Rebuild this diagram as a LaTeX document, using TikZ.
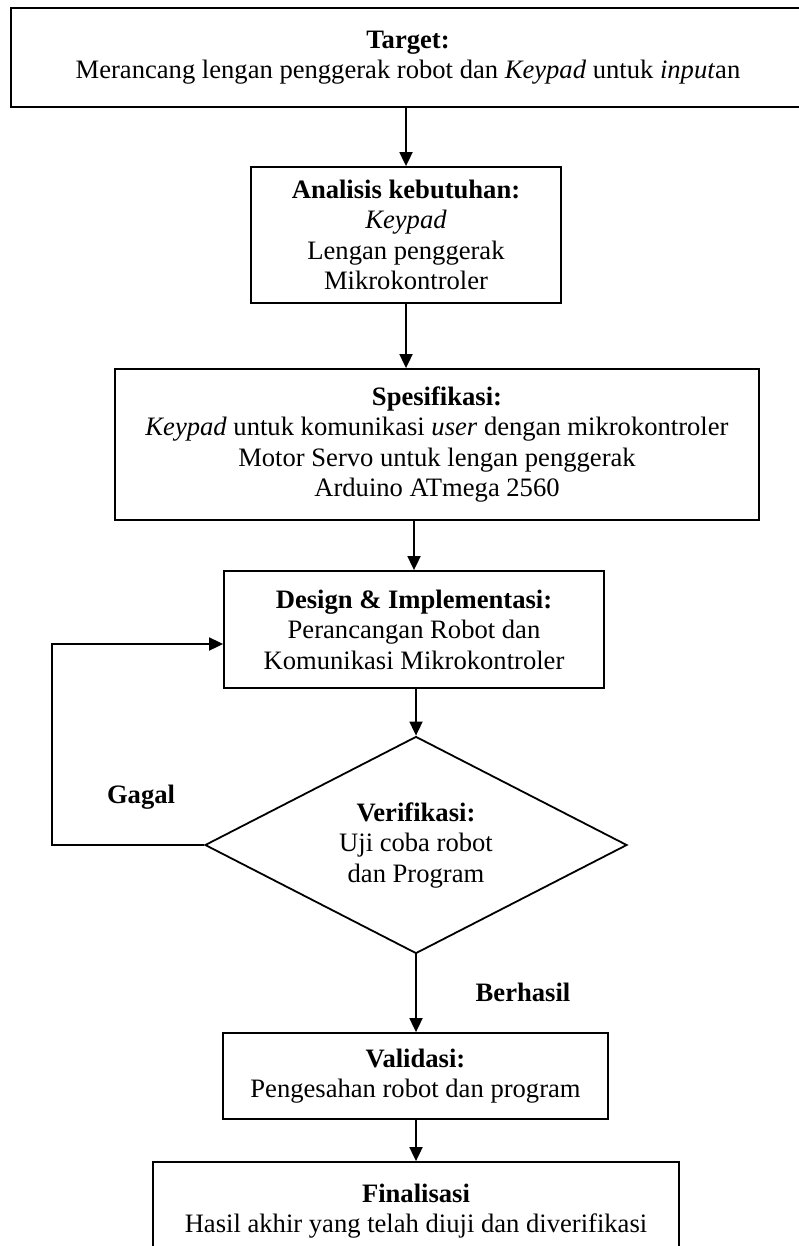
\documentclass[tikz,border=0pt]{standalone}
\usepackage{fontspec}
\setmainfont{Liberation Serif}
\usetikzlibrary{shapes.geometric,arrows.meta}

\begin{document}
\begin{tikzpicture}[x=1pt, y=-1pt, line width=1.8pt, >={Triangle[length=14pt, width=13pt]},
        teks/.style={font=\fontsize{26.6}{30.5}\selectfont, align=center},
        kotak/.style={teks, rectangle, draw, inner sep=0pt},
        belah/.style={teks, diamond, aspect=2, draw, inner sep=0pt}]
        % \draw (0, 0) grid [step=100] (798, 1246);
        \useasboundingbox (0, 0) rectangle (798, 1246);
        \node [kotak, minimum width=794pt, minimum height=99pt, name=box_target] at (408, 57.5)
            {\textbf{Target:}\\Merancang lengan penggerak robot dan \textit{Keypad} untuk \textit{input}an};
        \node [kotak, minimum width=310pt, minimum height=136pt, name=box_analisis] at (406, 235)
            {\textbf{Analisis kebutuhan:}\\\textit{Keypad}\\Lengan penggerak\\Mikrokontroler};
        \node [kotak, minimum width=644pt, minimum height=151pt, name=box_spes] at (437, 444.5)
            {\textbf{Spesifikasi:}\\\textit{Keypad} untuk komunikasi \textit{user} dengan mikrokontroler\\Motor Servo untuk lengan penggerak\\Arduino ATmega 2560};
        \node [kotak, minimum width=380pt, minimum height=117pt, name=box_design] at (414, 629.5)
            {\textbf{Design \& Implementasi:}\\Perancangan Robot dan\\Komunikasi Mikrokontroler};
        \node [belah, minimum width=422pt, minimum height=217pt, name=box_verif] at (416, 845)
            {\textbf{Verifikasi:}\\Uji coba robot\\dan Program};
        \node [kotak, minimum width=385pt, minimum height=86pt, name=box_valid] at (415.5, 1076)
            {\textbf{Validasi:}\\Pengesahan robot dan program};
        \node [kotak, minimum width=526pt, minimum height=98pt, name=box_final] at (416, 1211)
            {\textbf{Finalisasi}\\Hasil akhir yang telah diuji dan diverifikasi};
        \node [teks, font=\fontsize{26.6}{30.5}\selectfont\bfseries, name=lbl_gagal] at (141, 797) {Gagal};
        \node [teks, font=\fontsize{26.6}{30.5}\selectfont\bfseries, name=lbl_berhasil] at (523, 992) {Berhasil};
        \coordinate (balik) at (52, 644);
        \draw [->] (box_analisis.north |- box_target.south) -- (box_analisis.north);
        \draw [->] (box_analisis.south) -- (box_analisis.south |- box_spes.north);
        \draw [->] (box_design.north |- box_spes.south) -- (box_design.north);
        \draw [->] (box_verif.north |- box_design.south) -- (box_verif.north);
        \draw [->] (box_verif.west) -| (balik) -- (box_design.west |- balik);
        \draw [->] (box_verif.south) -- (box_verif.south |- box_valid.north);
        \draw [->] (box_valid.south -| box_final.north) -- (box_final.north);
    \end{tikzpicture}
\end{document}
